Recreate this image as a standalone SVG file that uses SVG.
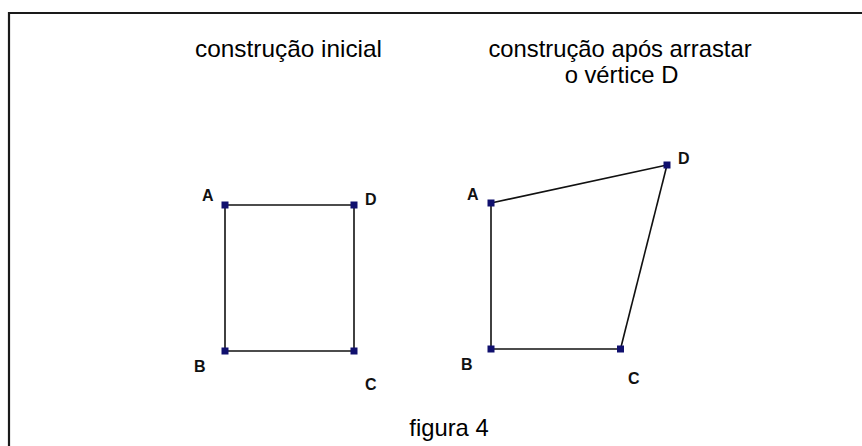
<svg xmlns="http://www.w3.org/2000/svg" width="862" height="446" viewBox="0 0 862 446">
<style>
.t{font-family:"Liberation Sans",Arial,sans-serif;font-size:23.8px;fill:#000}
.l{font-family:"Liberation Sans",Arial,sans-serif;font-size:16px;font-weight:bold;fill:#111}
.e{stroke:#111;stroke-width:1.6;fill:none}
.p{fill:#10106e}
</style>
<rect width="862" height="446" fill="#fff"/>
<path d="M9,446 V13 H862" fill="none" stroke="#1a1a1a" stroke-width="2.2"/>
<g id="titles">
<text class="t" x="288.5" y="57" text-anchor="middle" textLength="187" lengthAdjust="spacingAndGlyphs">construção inicial</text>
<text class="t" x="620" y="57" text-anchor="middle">construção após arrastar</text>
<text class="t" x="621.5" y="83" text-anchor="middle">o vértice D</text>
<text class="t" x="449" y="436" text-anchor="middle">figura 4</text>
</g>
<g id="connectors">
<line class="e" x1="225" y1="205" x2="354" y2="205"/>
<line class="e" x1="225" y1="205" x2="225" y2="351"/>
<line class="e" x1="225" y1="351" x2="354" y2="351"/>
<line class="e" x1="354" y1="205" x2="354" y2="351"/>
<line class="e" x1="491" y1="203" x2="667" y2="165"/>
<line class="e" x1="491" y1="203" x2="491" y2="349"/>
<line class="e" x1="491" y1="349" x2="620.5" y2="349"/>
<line class="e" x1="667" y1="165" x2="620.5" y2="349"/>
</g>
<g id="left-A"><rect class="p" x="221.5" y="201.5" width="7" height="7"/><text class="l" x="202" y="201">A</text></g>
<g id="left-D"><rect class="p" x="350.5" y="201.5" width="7" height="7"/><text class="l" x="365" y="205">D</text></g>
<g id="left-B"><rect class="p" x="221.5" y="347.5" width="7" height="7"/><text class="l" x="194" y="372">B</text></g>
<g id="left-C"><rect class="p" x="350.5" y="347.5" width="7" height="7"/><text class="l" x="365" y="390">C</text></g>
<g id="right-A"><rect class="p" x="487.5" y="199.5" width="7" height="7"/><text class="l" x="467" y="200">A</text></g>
<g id="right-D"><rect class="p" x="663.5" y="161.5" width="7" height="7"/><text class="l" x="678" y="164">D</text></g>
<g id="right-B"><rect class="p" x="487.5" y="345.5" width="7" height="7"/><text class="l" x="461" y="370">B</text></g>
<g id="right-C"><rect class="p" x="617" y="345.5" width="7" height="7"/><text class="l" x="628" y="384">C</text></g>
</svg>
